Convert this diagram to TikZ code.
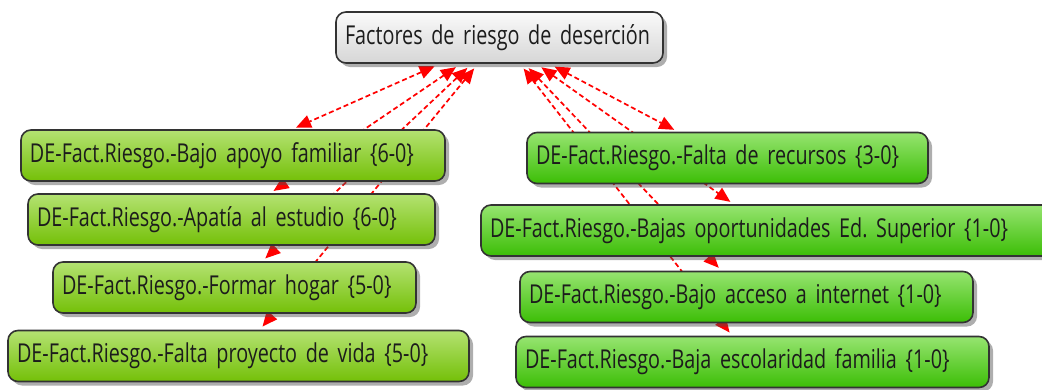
\documentclass[tikz,border=0pt]{standalone}
\usepackage{fontspec}
\setmainfont[FakeStretch=0.76]{Open Sans}
\usetikzlibrary{arrows.meta,shadows,backgrounds}

\definecolor{gtop}{RGB}{250,250,250}
\definecolor{gbot}{RGB}{214,214,214}
\definecolor{ltop}{RGB}{180,226,114}
\definecolor{lbot}{RGB}{116,192,8}
\definecolor{rtop}{RGB}{150,228,112}
\definecolor{rbot}{RGB}{60,190,6}
\definecolor{ink}{RGB}{28,28,28}

\tikzset{
  code/.style={draw=ink!90, line width=1.6pt, rounded corners=10pt,
    minimum height=51pt, inner xsep=9pt, inner ysep=2pt, align=left,
    font={\fontsize{26}{28}\selectfont\frenchspacing\spaceskip=5pt plus 1pt\relax},
    text=ink,
    drop shadow={shadow xshift=4pt, shadow yshift=-4pt, opacity=0.45, fill=black!70}},
  family/.style={code, top color=gtop, bottom color=gbot, text width=#1},
  lcode/.style={code, top color=ltop, bottom color=lbot, text width=#1},
  rcode/.style={code, top color=rtop, bottom color=rbot, text width=#1},
  link/.style={red, line width=1.7pt, dash pattern=on 5pt off 3pt,
    {Triangle[length=15pt,width=13pt]}-{Triangle[length=15pt,width=13pt]},
    shorten <=6pt, shorten >=4pt}
}

\begin{document}
\begin{tikzpicture}[x=1pt,y=-1pt]
\useasboundingbox (0,0) rectangle (1042,389);

\node[family=309pt] (riesgo) at (499.5,37.5) {Factores de riesgo de deserción};

% left group
\node[lcode=406pt] (apoyo) at (233,155.5) {DE-Fact.Riesgo.-Bajo apoyo familiar \{6-0\}};
\node[lcode=389pt] (apatia) at (231.5,219.5) {DE-Fact.Riesgo.-Apatía al estudio \{6-0\}};
\node[lcode=345pt] (hogar) at (234.5,287.5) {DE-Fact.Riesgo.-Formar hogar \{5-0\}};
\node[lcode=443pt] (proyecto) at (238.5,356) {DE-Fact.Riesgo.-Falta proyecto de vida \{5-0\}};

% right group
\node[rcode=383pt] (recursos) at (727.5,158) {DE-Fact.Riesgo.-Falta de recursos \{3-0\}};
\node[rcode=561pt] (superior) at (770.5,230.5) {DE-Fact.Riesgo.-Bajas oportunidades Ed. Superior \{1-0\}};
\node[rcode=435pt] (internet) at (746.5,297) {DE-Fact.Riesgo.-Bajo acceso a internet \{1-0\}};
\node[rcode=455pt] (escolar) at (752.5,362) {DE-Fact.Riesgo.-Baja escolaridad familia \{1-0\}};

\begin{pgfonlayer}{background}
\foreach \n in {apoyo,apatia,hogar,proyecto,recursos,superior,internet,escolar}
  \draw[link] (riesgo) -- (\n);
\end{pgfonlayer}

\end{tikzpicture}
\end{document}
